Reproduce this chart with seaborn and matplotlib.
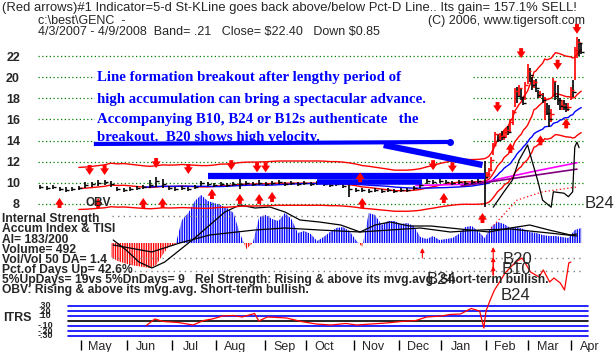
import numpy as np
import pandas as pd
import matplotlib
matplotlib.use("Agg")
import matplotlib.pyplot as plt
from matplotlib.patches import Rectangle
import seaborn as sns

sns.set_theme(style="white")
plt.rcParams["font.family"] = ["Liberation Sans", "DejaVu Sans"]
plt.rcParams["hatch.linewidth"] = 1.0

# ---------------- data ----------------
holidays = ["2007-04-06", "2007-05-28", "2007-07-04", "2007-09-03", "2007-11-22",
            "2007-12-25", "2008-01-01", "2008-01-21", "2008-02-18", "2008-03-21"]
trading_days = pd.bdate_range("2007-04-03", "2008-04-09", freq="C", holidays=holidays)
month_labels = ["May", "Jun", "Jul", "Aug", "Sep", "Oct", "Nov", "Dec", "Jan", "Feb", "Mar", "Apr"]

# price bars: every 3rd trading day through January, then daily
bar_day = list(range(0, 205, 3)) + list(range(207, 253))
bar_close = [9.6, 9.5, 9.6, 9.4, 9.3, 9.4, 9.5, 9.8, 9.9, 10.0, 10.1, 9.9, 9.4, 9.3, 9.4, 9.5, 9.6,
             9.8, 10.2, 9.9, 9.5, 9.4, 9.5, 9.4, 9.6, 10.0, 9.9, 9.8, 9.9, 9.8, 9.9, 9.9, 10.0,
             9.9, 10.0, 9.9, 10.0, 10.1, 9.9, 10.0, 9.9, 10.0, 9.9, 10.0, 9.9, 9.8, 9.9, 9.7,
             9.4, 9.3, 9.3, 9.2, 9.3, 9.2, 9.3, 9.2, 9.3, 9.3, 9.5, 9.8, 10.2, 10.1, 10.2, 10.1,
             10.0, 10.1, 10.0, 10.1, 10.2,
             10.6, 10.8, 11.2, 12.2, 13.6, 14.6, 14.1, 14.4, 14.3, 14.8,
             15.0, 14.8, 15.8, 16.7, 18.7, 18.2, 19.0, 18.1, 17.6, 19.3,
             20.6, 20.2, 19.3, 19.5, 19.0, 18.3, 18.4, 17.8, 17.9, 16.6,
             16.0, 16.5, 19.6, 18.2, 17.8, 17.3, 17.4, 17.2, 17.0, 17.2,
             18.8, 18.6, 22.6, 23.3, 23.25, 22.4]
bar_high = [9.8, 9.7, 9.8, 9.6, 9.6, 9.6, 9.7, 10.1, 10.1, 10.3, 10.3, 10.2, 9.6, 9.5, 9.6, 9.7,
            9.8, 10.3, 10.6, 10.4, 9.7, 9.6, 9.7, 9.6, 9.8, 10.2, 10.1, 10.0, 10.1, 10.0, 10.1,
            10.4, 10.2, 10.1, 10.3, 10.1, 10.2, 10.3, 10.1, 10.2, 10.1, 10.2, 10.1, 10.2, 10.1,
            10.0, 10.1, 9.9, 10.0, 9.5, 9.5, 9.4, 9.5, 9.4, 9.5, 9.4, 9.5, 9.5, 9.7, 10.0, 10.4,
            10.3, 10.4, 10.3, 10.2, 10.3, 10.2, 10.3, 10.5,
            12.1, 11.0, 11.4, 12.4, 13.8, 14.8, 14.6, 14.7, 14.9, 15.0,
            15.2, 15.4, 16.0, 16.9, 19.0, 19.1, 19.3, 18.9, 18.1, 19.5,
            21.2, 20.9, 20.0, 19.7, 19.8, 18.8, 18.7, 18.5, 18.1, 17.6,
            17.4, 17.0, 19.9, 19.6, 19.3, 18.0, 17.8, 17.8, 17.6, 17.6,
            19.1, 19.7, 22.9, 23.8, 23.6, 23.2]
bar_low = [9.4, 9.3, 9.4, 9.2, 9.1, 9.2, 9.3, 9.5, 9.6, 9.7, 9.8, 9.6, 9.2, 9.1, 9.2, 9.3, 9.4,
           9.5, 9.6, 9.5, 9.3, 9.2, 9.3, 9.2, 9.4, 9.7, 9.7, 9.6, 9.7, 9.6, 9.7, 9.4, 9.8, 9.7,
           9.8, 9.7, 9.8, 9.9, 9.7, 9.8, 9.7, 9.8, 9.7, 9.8, 9.7, 9.6, 9.7, 9.5, 8.7, 9.1, 9.1,
           9.0, 9.1, 9.0, 9.1, 9.0, 9.1, 9.1, 9.3, 9.5, 9.9, 9.9, 10.0, 9.9, 9.8, 9.9, 9.8, 9.9,
           10.0,
           7.7, 10.4, 10.6, 11.2, 12.6, 13.6, 13.9, 14.0, 14.1, 14.1,
           14.2, 14.5, 14.8, 15.5, 17.2, 17.6, 18.1, 17.8, 17.4, 17.8,
           19.4, 19.5, 18.8, 19.0, 18.6, 18.0, 18.0, 17.6, 15.9, 16.4,
           15.3, 15.8, 18.1, 17.8, 17.4, 16.9, 16.9, 16.9, 16.7, 16.8,
           17.8, 18.1, 19.7, 21.8, 22.0, 22.2]
price_ticks = [8, 10, 12, 14, 16, 18, 20, 22]

# long-term moving averages (magenta / purple)
magenta_day = [175, 196, 207, 229, 250]
magenta_val = [9.75, 9.86, 10.08, 11.05, 11.9]
purple_day = [196, 250]
purple_val = [9.7, 11.3]

# hand-drawn blue trend lines: (start day, start price, end day, end price)
trend_x0 = [25, 160, 78, 129]
trend_y0 = [13.68, 13.58, 10.65, 10.08]
trend_x1 = [191, 206, 207, 178]
trend_y1 = [13.87, 11.69, 10.65, 10.08]

# red signal arrows (tip at day, price)
buy_day = [9, 27, 48, 57, 80, 93, 102, 108, 149, 150, 188, 206, 219, 233, 245]
buy_price = [8.57, 8.57, 8.57, 8.57, 9.42, 8.95, 8.95, 9.14, 11.0, 8.57, 9.04, 7.15, 13.77, 14.5, 16.1]
sell_day = [23, 30, 54, 69, 89, 101, 105, 183, 192, 213, 224, 241, 250]
sell_price = [10.74, 10.74, 11.4, 10.84, 11.2, 11.0, 11.0, 11.2, 11.0, 16.7, 21.8, 20.7, 24.1]

# OBV (arbitrary units) and its moving average
obv_day = [211, 216, 220, 223, 227, 229, 232, 234, 238, 239, 244, 246, 248, 249, 250, 251]
obv_val = [4, 26, 43, 71, 93, 71, 39, 14, 4, 26, 24, 19, 26, 90, 97, 89]
obvma_day = [210, 222, 234, 250]
obvma_val = [-26, 14, 26, 33]

# Accumulation index, TISI and AI moving average
ai_day = list(range(33, 253, 3))
ai_val = [-14, -18, -20, -22, -23, -24, -25, -22, -12, -3,
          -2, 23, 30, 42, 48, 42, 40, 38, 35, 30,
          10, -6, 0, 26, 28, 24, 22, 30, 24, 10,
          12, 9, 2, 6, 11, 15, 16, 12, 3, -4,
          30, 28, 18, 22, 22, 19, 20, 17, 6, 4,
          7, 3, 4, 5, 9, 16, 17, 12, 5, 16,
          21, 19, 15, 16, 14, 11, 10, 8, 7, 7,
          6, 5, 13, 15]
tisi_day = [34, 40, 46, 52, 58, 65, 72, 79, 86, 93, 100, 107, 114, 121, 130, 140, 149, 156, 163,
            172, 182, 191, 200, 209, 219, 228, 237, 247, 250]
tisi_val = [3, -7, -19, -25, -19, -7, 5, 18, 31, 38, 35, 36, 31, 23, 21, 18, 11, 18, 21,
            17, 17, 15, 13, 11, 15, 18, 13, 8, 9]
aima_day = [34, 52, 65, 79, 100, 114, 130, 149, 163, 177, 191, 205, 219, 237, 250]
aima_val = [-2, -9, 0, 8, 13, 15, 13, 11, 13, 15, 11, 13, 14, 10, 7]
ai_ref_levels = [27, -15, -28]

# thin red signal arrows in the indicator area (day, tip, tail)
sig_day = [178, 211, 211, 211]
sig_tip = [-5, -4, -14, -23]
sig_tail = [-15, -32, -32, -32]

# ITRS (relative strength)
itrs_levels = [0.3, 0.2, 0.1, -0.1, -0.2, -0.3]
itrs_labels = [".30", ".20", ".10", "-.10", "-.20", "-.30"]
itrs_day = [50, 54, 58, 65, 72, 77, 81, 86, 91, 95, 101, 103, 107, 112, 116, 123, 130, 137, 144,
            149, 156, 163, 170, 177, 182, 189, 193, 198, 203, 207, 209, 210, 212, 214, 217, 219,
            224, 227, 231, 235, 237, 240, 242, 245, 247, 249, 250]
itrs_val = [-0.09, 0.04, -0.01, -0.03, -0.08, 0.01, 0.04, 0.10, 0.11, 0.08, 0.15, 0.0, 0.08, 0.07,
            0.06, -0.01, -0.06, -0.08, -0.05, -0.08, -0.06, -0.04, -0.01, 0.01, 0.08, 0.10, 0.13,
            0.14, 0.25, 0.20, -0.14, 0.20, 0.42, 0.62, 0.82, 0.96, 1.18, 1.26, 0.98, 0.88, 1.02,
            0.78, 0.86, 0.76, 0.62, 1.16, 1.18]

# ---------------- layout helpers ----------------
W, H = 616, 352
fig = plt.figure(figsize=(W / 100, H / 100), dpi=100)
fig.patch.set_facecolor("white")


def px_axes(x0, y0, x1, y1):
    a = fig.add_axes([x0 / W, 1 - y1 / H, (x1 - x0) / W, (y1 - y0) / H])
    a.set_facecolor("none")
    for s in a.spines.values():
        s.set_visible(False)
    a.set_xticks([])
    a.set_yticks([])
    return a


X0, X1 = 38, 590
DAY0_PX, PX_PER_DAY = 40.2, 2.147
XLIM = ((X0 - DAY0_PX) / PX_PER_DAY, (X1 - DAY0_PX) / PX_PER_DAY)

RED, BLUE, BLACK = "#FF0000", "#0000FF", "#000000"

# ---------------- AI / TISI panel ----------------
ax_ai = px_axes(X0, 190, X1, 285)
ax_ai.set_xlim(XLIM)
ax_ai.set_ylim(-42, 53)
ai = np.array(ai_val, dtype=float)
ax_ai.fill_between(ai_day, 0, ai, where=ai >= 0, interpolate=True, facecolor="none",
                   edgecolor=BLUE, hatch="|||||||", linewidth=0)
ax_ai.fill_between(ai_day, 0, ai, where=ai <= 0, interpolate=True, facecolor="none",
                   edgecolor=RED, hatch="|||||||", linewidth=0)
for lv in ai_ref_levels:
    ax_ai.axhline(lv, xmin=(112 - X0) / (X1 - X0), xmax=(580 - X0) / (X1 - X0),
                  color="#808080", ls=(0, (1, 3)), lw=1)
sns.lineplot(x=tisi_day, y=tisi_val, ax=ax_ai, color=BLACK, lw=0.9, estimator=None)
sns.lineplot(x=aima_day, y=aima_val, ax=ax_ai, color=BLACK, lw=0.9, estimator=None)
for d, t, tl in zip(sig_day, sig_tip, sig_tail):
    ax_ai.annotate("", xy=(d, t), xytext=(d, tl),
                   arrowprops=dict(arrowstyle="-|>", color=RED, lw=0.8, mutation_scale=6,
                                   shrinkA=0, shrinkB=0), annotation_clip=False)
ax_ai.set_xlabel("")
ax_ai.set_ylabel("")

# ---------------- ITRS panel ----------------
ax_it = px_axes(X0, 240, X1, 340)
ax_it.set_xlim(XLIM)
ax_it.set_ylim(-0.38, 1.62)
for lv in itrs_levels:
    ax_it.axhline(lv, xmin=(68 - X0) / (X1 - X0), xmax=(588 - X0) / (X1 - X0), color=BLUE, lw=1.2)
ax_it.axhline(0, xmin=(68 - X0) / (X1 - X0), xmax=(588 - X0) / (X1 - X0), color=BLACK, lw=1.2)
sns.lineplot(x=itrs_day, y=itrs_val, ax=ax_it, color=RED, lw=0.9, estimator=None)
ax_it.set_xlabel("")
ax_it.set_ylabel("")
months = pd.date_range("2007-05-01", periods=12, freq="MS")
month_idx = trading_days.searchsorted(months)
ax_it.set_xticks(month_idx)
ax_it.set_xticklabels([""] * len(month_idx))
ax_it.set_xticks(month_idx + 9, minor=True)
ax_it.set_xticklabels(month_labels, minor=True, fontsize=9)
ax_it.tick_params(axis="x", which="major", bottom=True, direction="out", length=7, width=1,
                  color=BLACK)
ax_it.tick_params(axis="x", which="minor", bottom=True, length=0, pad=1)
for lv, lab in zip(itrs_levels, itrs_labels):
    ax_it.text(0.0, lv, lab, transform=ax_it.get_yaxis_transform(), fontsize=6.5,
               fontweight="bold", ha="left", va="center")
fig.text(3 / W, 1 - 318 / H, "ITRS", fontsize=9, fontweight="bold", va="center")

# ---------------- price panel ----------------
def price_at(ypx):
    return 8 + (204 - ypx) / 10.57


ax = px_axes(X0, 28, X1, 242)
ax.set_xlim(XLIM)
ax.set_ylim(price_at(242), price_at(28))
ax.set_yticks(price_ticks)
ax.set_yticklabels([str(v) for v in price_ticks], fontsize=9, fontweight="bold")
ax.tick_params(axis="y", left=False, length=0, pad=13)
for lv in price_ticks:
    ax.axhline(lv, xmin=0, xmax=(585 - X0) / (X1 - X0), color="#008000", ls=(0, (1, 2)),
               lw=0.9, zorder=1)
ax.add_patch(Rectangle((95 / W, 1 - 150 / H), (473 - 95) / W, (150 - 64) / H,
                       transform=fig.transFigure, facecolor="white", edgecolor="none", zorder=1.5))

closes = pd.Series(bar_close, index=trading_days[bar_day], dtype=float)
ma21 = closes.rolling("30D", min_periods=7).mean().to_numpy()
ma50 = closes.rolling("72D", min_periods=17).mean().to_numpy()
sns.lineplot(x=bar_day, y=ma21 * 1.21, ax=ax, color=RED, lw=1, estimator=None)
sns.lineplot(x=bar_day, y=ma21 * 0.79, ax=ax, color=RED, lw=1, estimator=None)
sns.lineplot(x=bar_day, y=ma21, ax=ax, color=RED, lw=1, estimator=None)
sns.lineplot(x=bar_day, y=ma50, ax=ax, color=BLUE, lw=1, estimator=None)
sns.lineplot(x=magenta_day, y=magenta_val, ax=ax, color="#FF00FF", lw=1.2, estimator=None)
sns.lineplot(x=purple_day, y=purple_val, ax=ax, color="#800080", lw=1.2, estimator=None)

prev = [bar_close[0]] + bar_close[:-1]
bar_colors = [RED if (d >= 208 and c >= p) else BLACK for d, c, p in zip(bar_day, bar_close, prev)]
ax.vlines(bar_day, bar_low, bar_high, colors=bar_colors, lw=1.2, zorder=4)
for col in (RED, BLACK):
    xs = [d for d, cc in zip(bar_day, bar_colors) if cc == col]
    ys = [c for c, cc in zip(bar_close, bar_colors) if cc == col]
    ax.plot(xs, ys, ls="none", marker=1, ms=2.5, mew=1, color=col, zorder=4)

# blue trend lines
widths = [3, 4.5, 4.5, 4]
for x0, y0, x1, y1, w in zip(trend_x0, trend_y0, trend_x1, trend_y1, widths):
    ax.plot([x0, x1], [y0, y1], color=BLUE, lw=w, solid_capstyle="butt", zorder=5)
ax.plot([trend_x1[0]], [trend_y1[0]], marker="o", ms=4, color=BLUE, zorder=5)

arrow_style = dict(arrowstyle="simple,head_width=0.8,head_length=0.6,tail_width=0.35",
                   fc=RED, ec=RED, lw=0, mutation_scale=8, shrinkA=0, shrinkB=0)
for d, p in zip(buy_day, buy_price):
    ax.annotate("", xy=(d, p), xytext=(0, -10), textcoords="offset pixels",
                arrowprops=arrow_style, annotation_clip=False, zorder=6)
for d, p in zip(sell_day, sell_price):
    ax.annotate("", xy=(d, p), xytext=(0, 10), textcoords="offset pixels",
                arrowprops=arrow_style, annotation_clip=False, zorder=6)
ax.set_xlabel("")
ax.set_ylabel("")

# OBV overlay
ax_obv = ax.twinx()
ax_obv.set_facecolor("none")
for s in ax_obv.spines.values():
    s.set_visible(False)
ax_obv.set_ylim(-45.7, 260)
ax_obv.set_yticks([])
sns.lineplot(x=obv_day, y=obv_val, ax=ax_obv, color=BLACK, lw=0.9, estimator=None)
sns.lineplot(x=obvma_day, y=obvma_val, ax=ax_obv, color=RED, lw=0.9, ls=(0, (1, 2)), estimator=None)
ax_obv.set_ylabel("")

# ---------------- texts ----------------
fig.text(2 / W, 1 - 8 / H,
         "(Red arrows)#1 Indicator=5-d St-KLine goes back above/below Pct-D Line.. Its gain= 157.1% SELL!",
         fontsize=9.4, va="center", ha="left")
fig.text(38 / W, 1 - 21 / H, "c:\\best\\GENC  -", fontsize=9, va="center")
fig.text(428 / W, 1 - 21 / H, "(C) 2006, www.tigersoft.com", fontsize=9, va="center")
fig.text(38 / W, 1 - 32 / H, "4/3/2007 - 4/9/2008  Band= .21   Close= \\$22.40   Down \\$0.85",
         fontsize=9, va="center")

para = ["Line formation breakout after lengthy period of",
        "high accumulation can bring a spectacular advance.",
        "Accompanying B10, B24 or B12s authenticate   the",
        "breakout.  B20 shows high velocity."]
for line, yc in zip(para, [78, 99, 120, 138]):
    fig.text(97 / W, 1 - yc / H, line, fontsize=10.7, fontweight="bold", color=BLUE,
             family=["Liberation Serif", "DejaVu Serif"], va="center")

left_lines = ["Internal Strength", "Accum Index & TISI", "AI= 183/200", "Volume= 492",
              "Vol/Vol 50 DA= 1.4", "Pct.of Days Up= 42.6%",
              "5%UpDays= 19vs 5%DnDays= 9   Rel Strength: Rising & above its mvg.avg. Short-term bullish.",
              "OBV: Rising & above its mvg.avg. Short-term bullish."]
for line, yc in zip(left_lines, [219, 229, 240, 250, 260, 270, 280, 290]):
    fig.text(2 / W, 1 - yc / H, line, fontsize=8.7, fontweight="bold", va="center")

fig.text(85 / W, 1 - 203 / H, "OBV", fontsize=8.5, fontweight="bold", va="center")
for lab, (xc, yc) in zip(["B20", "B10", "B24", "B24", "B24"],
                         [(517, 259), (516, 270), (515, 295), (442, 280), (600, 204)]):
    fig.text(xc / W, 1 - yc / H, lab, fontsize=12, ha="center", va="center")

fig.savefig("out.png", dpi=100, facecolor="white")
